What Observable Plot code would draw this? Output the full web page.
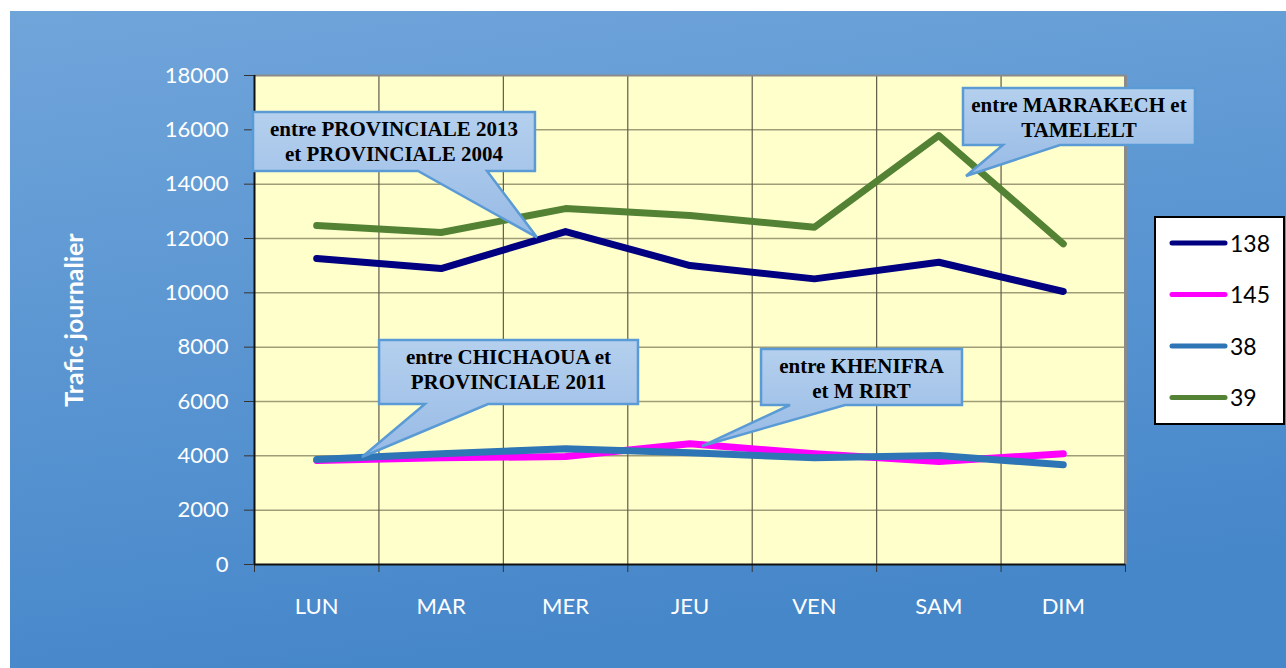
<!DOCTYPE html>
<html>
<head>
<meta charset="utf-8">
<script src="https://cdn.jsdelivr.net/npm/d3@7"></script>
<script src="https://cdn.jsdelivr.net/npm/@observablehq/plot@0.6"></script>
<style>
  html, body { margin: 0; padding: 0; background: #ffffff; overflow: hidden; }
  #chart svg { display: block; }
</style>
</head>
<body>
<div id="chart"></div>
<script>
// ---- data ----
const days = ["LUN", "MAR", "MER", "JEU", "VEN", "SAM", "DIM"];
const seriesNames = ["138", "145", "38", "39"];
const s138 = [11262, 10894, 12256, 11005, 10514, 11126, 10048];
const s145 = [3828, 3925, 3975, 4442, 4075, 3790, 4075];
const s38  = [3865, 4075, 4258, 4110, 3925, 4012, 3668];
const s39  = [12477, 12220, 13100, 12845, 12416, 15790, 11803];
const seriesColors = ["#000080", "#ff00ff", "#2e75b6", "#548235"];
const yTicks = d3.range(0, 18001, 2000);
const yTitle = "Trafic journalier";

// callouts: box in data units [i0, i1, vTop, vBottom], pointer base [i0, i1], tip [i, v]
const callouts = [
  {lines: ["entre PROVINCIALE 2013", "et PROVINCIALE 2004"], box: [-0.508, 1.758, 16638, 14466], base: [0.818, 1.373], tip: [1.774, 12024]},
  {lines: ["entre MARRAKECH et", "TAMELELT"], box: [5.198, 7.062, 17521, 15423], base: [5.519, 5.977], tip: [5.222, 14282]},
  {lines: ["entre CHICHAOUA et", "PROVINCIALE 2011"], box: [0.505, 2.586, 8245, 5889], base: [0.874, 1.381], tip: [0.368, 3939]},
  {lines: ["entre KHENIFRA", "et M RIRT"], box: [3.575, 5.190, 7914, 5853], base: [3.808, 4.250], tip: [3.10, 4343]}
];

// ---- build table ----
const valuesBySeries = {"138": s138, "145": s145, "38": s38, "39": s39};
const rows = [];
for (const s of seriesNames) {
  valuesBySeries[s].forEach((v, i) => rows.push({series: s, i, day: days[i], value: v}));
}
const idx = days.map((d, i) => i);
const bounds = d3.range(-0.5, days.length, 1);

const W = 1286, H = 668;
const plot = Plot.plot({
  width: W,
  height: H,
  marginLeft: 254,
  marginRight: 161,
  marginTop: 75,
  marginBottom: 104,
  style: {background: "transparent", fontFamily: "Lato, 'Open Sans', sans-serif", fontSize: "22px", overflow: "visible"},
  x: {type: "linear", domain: [-0.5, days.length - 0.5], label: null},
  y: {domain: [0, 18000], label: null},
  color: {domain: seriesNames, range: seriesColors},
  marks: [
    Plot.frame({fill: "#ffffcc", stroke: "none"}),
    Plot.ruleY(yTicks.filter(d => d > 0 && d < 18000), {stroke: "#a09c78", strokeWidth: 1.5}),
    Plot.ruleX(bounds.filter(d => d > -0.5 && d < days.length - 0.5), {stroke: "#5e5c48", strokeWidth: 1.2}),
    Plot.ruleY([18000], {stroke: "#8a8a8a", strokeWidth: 2}),
    Plot.ruleX([days.length - 0.5], {stroke: "#8a8a8a", strokeWidth: 3}),
    Plot.axisY({ticks: yTicks, tickSize: 10, tickPadding: 16, stroke: "#333", fill: "white", fontSize: 22, label: null, tickFormat: d => String(d)}),
    Plot.axisX({ticks: bounds, tickSize: 8, tickFormat: () => "", stroke: "#333", label: null}),
    Plot.axisX({ticks: idx, tickSize: 0, tickPadding: 34, fill: "white", fontSize: 22, label: null, tickFormat: i => days[i]}),
    Plot.ruleY([0], {stroke: "#111", strokeWidth: 2}),
    Plot.ruleX([-0.5], {stroke: "#111", strokeWidth: 2}),
    Plot.line(rows, {x: "i", y: "value", z: "series", stroke: "series", strokeWidth: 7, strokeLinecap: "round", strokeLinejoin: "round"}),
    Plot.text([yTitle], {frameAnchor: "left", textAnchor: "middle", dx: -180, rotate: -90, fill: "white", fontWeight: "bold", fontSize: 25})
  ]
});

const svg = d3.select(plot);
const x = plot.scale("x"), y = plot.scale("y");
const X = v => x.apply(v), Y = v => y.apply(v);

// defs
const defs = svg.insert("defs", ":first-child");
const bg = defs.append("linearGradient").attr("id", "bgGrad").attr("x1", 0).attr("y1", 0).attr("x2", 0.25).attr("y2", 1);
bg.append("stop").attr("offset", "0%").attr("stop-color", "#70a5da");
bg.append("stop").attr("offset", "100%").attr("stop-color", "#4687ca");
const cg = defs.append("linearGradient").attr("id", "calloutGrad").attr("x1", 0).attr("y1", 0).attr("x2", 0).attr("y2", 1);
cg.append("stop").attr("offset", "0%").attr("stop-color", "#b5d0ee");
cg.append("stop").attr("offset", "100%").attr("stop-color", "#97bae5");

// background panel
svg.insert("rect", "defs + *")
  .attr("x", 10).attr("y", 11).attr("width", W - 10).attr("height", H - 11)
  .attr("fill", "url(#bgGrad)");

// callouts
const cgrp = svg.append("g");
for (const c of callouts) {
  const x0 = X(c.box[0]), x1 = X(c.box[1]), y0 = Y(c.box[2]), y1 = Y(c.box[3]);
  const b0 = X(c.base[0]), b1 = X(c.base[1]);
  const tx = X(c.tip[0]), ty = Y(c.tip[1]);
  cgrp.append("path")
    .attr("d", `M${x0},${y0}H${x1}V${y1}H${b1}L${tx},${ty}L${b0},${y1}H${x0}Z`)
    .attr("fill", "url(#calloutGrad)")
    .attr("stroke", "#5b9bd5").attr("stroke-width", 2.5).attr("stroke-linejoin", "miter");
  const cx = (x0 + x1) / 2;
  c.lines.forEach((t, k) => {
    cgrp.append("text").attr("x", cx).attr("y", y0 + 24 + k * 24.5)
      .attr("text-anchor", "middle")
      .attr("font-family", "'Liberation Serif', 'Times New Roman', serif")
      .attr("font-weight", "bold").attr("font-size", 21).attr("fill", "#000")
      .text(t);
  });
}

// legend
const lg = svg.append("g");
lg.append("rect").attr("x", 1155).attr("y", 217).attr("width", 129).attr("height", 207)
  .attr("fill", "#ffffff").attr("stroke", "#000").attr("stroke-width", 2);
seriesNames.forEach((s, k) => {
  const yy = 243 + k * 51.5;
  lg.append("line").attr("x1", 1172).attr("x2", 1225).attr("y1", yy).attr("y2", yy)
    .attr("stroke", seriesColors[k]).attr("stroke-width", 5).attr("stroke-linecap", "round");
  lg.append("text").attr("x", 1230).attr("y", yy + 8.5)
    .attr("text-anchor", "start")
    .attr("font-family", "Lato, 'Open Sans', sans-serif").attr("font-size", 23).attr("fill", "#000")
    .text(s);
});

document.getElementById("chart").append(plot);
</script>
</body>
</html>
